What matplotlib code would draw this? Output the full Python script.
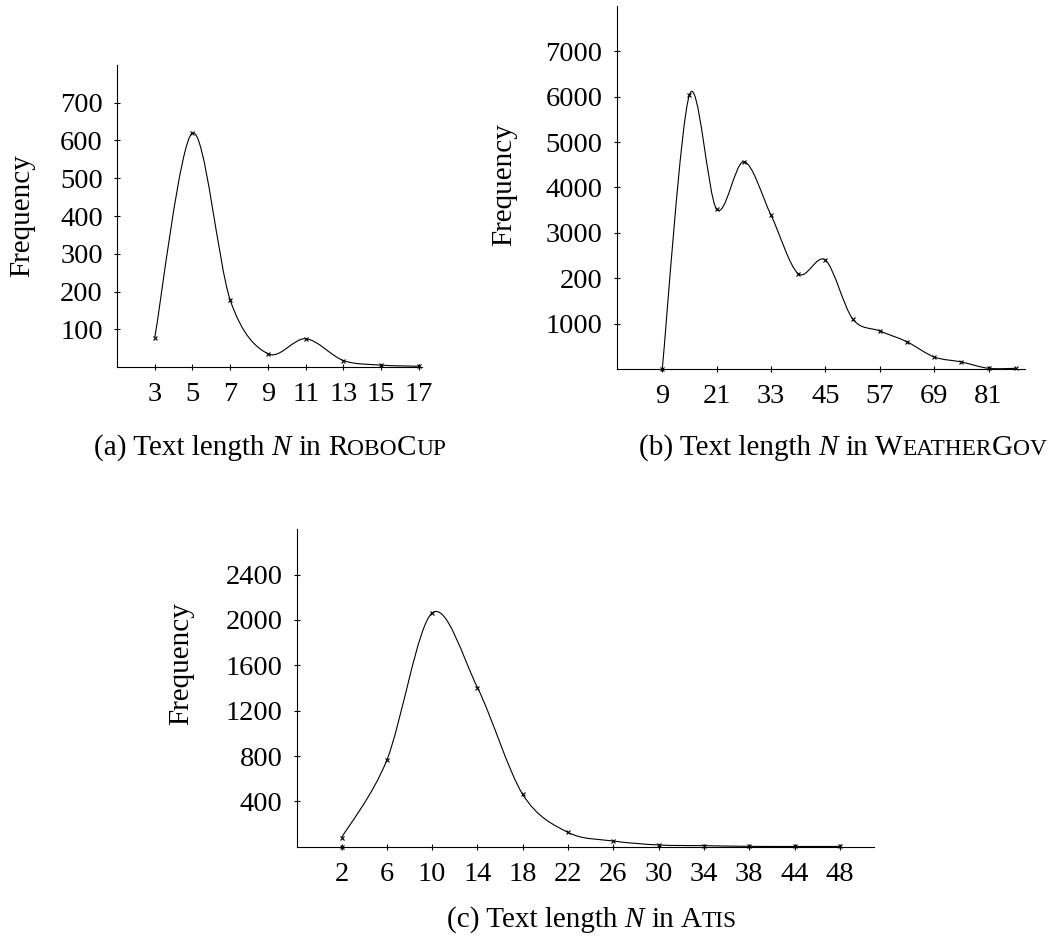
import numpy as np
import matplotlib
matplotlib.use('Agg')
import matplotlib.pyplot as plt
from matplotlib.path import Path
from matplotlib.patches import PathPatch

# ---------------- data ----------------
robo_x = [3, 5, 7, 9, 11, 13, 15, 17]
robo_y = [78, 620, 177, 35, 75, 17, 5, 2]
robo_yticks = [100, 200, 300, 400, 500, 600, 700]

weather_x = [9, 15, 21, 27, 33, 39, 45, 51, 57, 63, 69, 75, 81, 87]
weather_y = [10, 6045, 3520, 4570, 3390, 2100, 2400, 1105, 838, 600, 265, 155, 15, 15]
weather_xticks = [9, 21, 33, 45, 57, 69, 81]
weather_yticks = [1000, 2000, 3000, 4000, 5000, 6000, 7000]
weather_ytick_labels = ['1000', '200', '3000', '4000', '5000', '6000', '7000']

atis_labels = ['2', '6', '10', '14', '18', '22', '26', '30', '34', '38', '44', '48']
atis_y = [80, 764, 2062, 1404, 461, 126, 50, 15, 9, 3, 2, 2]
atis_extra_label = '2'
atis_extra_y = 0
atis_yticks = [400, 800, 1200, 1600, 2000, 2400]

# ---------------- figure ----------------
W, H = 1055, 938
plt.rcParams['font.family'] = 'Liberation Serif'
fig = plt.figure(figsize=(W / 100, H / 100), dpi=100)

TICK_FS = 20.5
LAB_FS = 21
CAP_FS = 21


def ax_px(x0, x1, y0, y1):
    return fig.add_axes([x0 / W, 1 - y1 / H, (x1 - x0) / W, (y1 - y0) / H])


def style(ax):
    for s in ('top', 'right'):
        ax.spines[s].set_visible(False)
    for s in ('left', 'bottom'):
        ax.spines[s].set_linewidth(0.8)
        ax.spines[s].set_color('black')
    ax.tick_params(axis='both', direction='inout', length=4.5, width=0.8,
                   labelsize=TICK_FS, colors='black')
    ax.tick_params(axis='y', pad=8.0)
    ax.tick_params(axis='x', pad=8.5)


def smooth(ax, xs, ys, k=0.16):
    P = np.column_stack([np.asarray(xs, float), np.asarray(ys, float)])
    n = len(P)
    verts = [P[0]]
    codes = [Path.MOVETO]
    for i in range(n - 1):
        p0 = P[i - 1] if i > 0 else P[i]
        p1 = P[i]
        p2 = P[i + 1]
        p3 = P[i + 2] if i + 2 < n else P[i + 1]
        c1 = p1 + k * (p2 - p0)
        c2 = p2 - k * (p3 - p1)
        verts += [c1, c2, p2]
        codes += [Path.CURVE4] * 3
    ax.add_patch(PathPatch(Path(verts, codes), fill=False, lw=0.8,
                           edgecolor='black', clip_on=False))
    ax.plot(xs, ys, linestyle='none', marker='x', markersize=3.5,
            markeredgewidth=0.8, color='black', clip_on=False)


def ylabel(cx, cy):
    fig.text(cx / W, 1 - cy / H, 'Frequency', rotation=90, ha='center',
             va='center', fontsize=LAB_FS)


# (a) RoboCup
axa = ax_px(117, 422, 65, 367)
style(axa)
smooth(axa, robo_x, robo_y)
axa.set_xlim(1, 17.16)
axa.set_ylim(0, 800)
axa.set_xticks(robo_x)
axa.set_yticks(robo_yticks)
ylabel(22, 216)

# (b) WeatherGov
axb = ax_px(616.7, 1025, 6, 369)
style(axb)
smooth(axb, weather_x, weather_y)
axb.set_xlim(-1.06, 89.05)
axb.set_ylim(0, 8000)
axb.set_xticks(weather_xticks)
axb.set_yticks(weather_yticks)
axb.set_yticklabels(weather_ytick_labels)
ylabel(504, 185)

# (c) ATIS
axc = ax_px(296.7, 874.3, 529.3, 846.7)
style(axc)
pos = np.arange(len(atis_labels))
smooth(axc, pos, atis_y)
axc.plot([atis_labels.index(atis_extra_label)], [atis_extra_y], linestyle='none',
         marker='x', markersize=3.5, markeredgewidth=0.8, color='black', clip_on=False)
axc.set_xlim(-0.99, 11.76)
axc.set_ylim(0, 2800)
axc.set_xticks(pos)
axc.set_xticklabels(atis_labels)
axc.set_yticks(atis_yticks)
ylabel(181, 664)

# ---------------- captions with small caps ----------------
renderer = fig.canvas.get_renderer()
SPACE = 0.25 * CAP_FS * 100 / 72


def caption(cx, base_y, pieces):
    items = []
    for s, kind in pieces:
        if kind == 'gap':
            items.append((None, SPACE))
            continue
        kw = dict(fontsize=CAP_FS, va='baseline', ha='left')
        if kind == 'i':
            kw['style'] = 'italic'
        if kind == 'sc':
            kw['fontsize'] = CAP_FS * 0.8
            s = s.upper()
        t = fig.text(0, 1 - base_y / H, s, **kw)
        w = t.get_window_extent(renderer).width
        items.append((t, w))
    total = sum(w for _, w in items)
    x = cx - total / 2
    for t, w in items:
        if t is not None:
            t.set_x(x / W)
        x += w


caption(270, 455, [('(a) Text length', 'n'), ('', 'gap'), ('N', 'i'), ('', 'gap'),
                   ('in', 'n'), ('', 'gap'), ('R', 'n'), ('obo', 'sc'), ('C', 'n'), ('up', 'sc')])
caption(843, 455, [('(b) Text length', 'n'), ('', 'gap'), ('N', 'i'), ('', 'gap'),
                   ('in', 'n'), ('', 'gap'), ('W', 'n'), ('eather', 'sc'), ('G', 'n'), ('ov', 'sc')])
caption(592, 927, [('(c) Text length', 'n'), ('', 'gap'), ('N', 'i'), ('', 'gap'),
                   ('in', 'n'), ('', 'gap'), ('A', 'n'), ('tis', 'sc')])

fig.savefig('out.png', dpi=100)
